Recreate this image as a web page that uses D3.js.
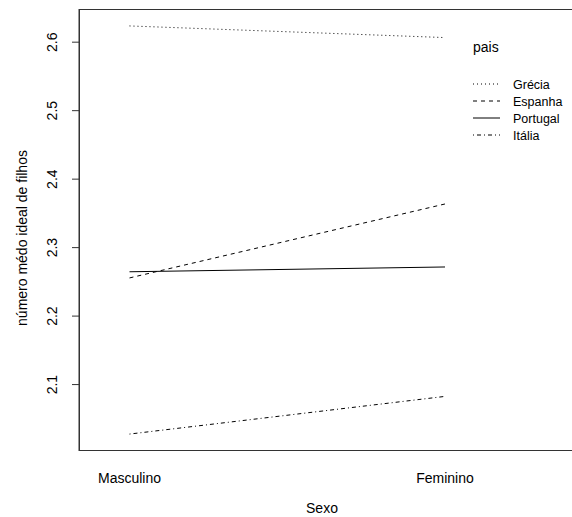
<!DOCTYPE html>
<html>
<head>
<meta charset="utf-8">
<script src="https://cdn.jsdelivr.net/npm/d3@7"></script>
<style>
body { margin: 0; background: #fff; }
text { font-family: "Liberation Sans", Arial, sans-serif; font-size: 14px; fill: #000; }
</style>
</head>
<body>
<svg id="chart" width="572" height="517"></svg>
<script>
const sexo = ['Masculino', 'Feminino']
const paises = ['Grécia', 'Espanha', 'Portugal', 'Itália']
const grecia = [2.623, 2.606]
const espanha = [2.255, 2.363]
const portugal = [2.264, 2.271]
const italia = [2.027, 2.082]
const yTicks = [2.1, 2.2, 2.3, 2.4, 2.5, 2.6]

const series = [grecia, espanha, portugal, italia]
const dashes = ['1,3', '4,4', null, '1,3,4,3']

const svg = d3.select('#chart')
const margin = {left: 79, top: 9.5, bottom: 450.5}

let x = d3.scalePoint()
.domain(sexo)
.range([129.5, 445])

let y = d3.scaleLinear()
.domain([2.003, 2.647])
.range([margin.bottom, margin.top])

// box (right side runs off the picture)
svg.append('rect')
.attr('x', margin.left)
.attr('y', margin.top)
.attr('width', 600)
.attr('height', margin.bottom - margin.top)
.attr('fill', 'none')
.attr('stroke', '#333')
.attr('stroke-width', 1)

// y axis
let yaxis = svg.append('g')
.attr('transform', `translate(${margin.left},0)`)
.call(d3.axisLeft(y).tickValues(yTicks).tickSize(7).tickSizeOuter(0).tickFormat(d3.format('.1f')))

yaxis.select('.domain').attr('stroke', '#333')
yaxis.selectAll('.tick line').attr('stroke', '#333')
yaxis.selectAll('text')
.attr('x', 0)
.attr('dy', 0)
.attr('text-anchor', 'middle')
.attr('transform', 'translate(-26,0) rotate(-90)')
.attr('dominant-baseline', 'middle')
.style('font-size', '14px')
.style('font-family', '"Liberation Sans", Arial, sans-serif')

// x labels
svg.append('g')
.selectAll('text')
.data(sexo)
.join('text')
.attr('x', d => x(d))
.attr('y', 483)
.attr('text-anchor', 'middle')
.text(d => d)

svg.append('text')
.attr('x', 322)
.attr('y', 513)
.attr('text-anchor', 'middle')
.text('Sexo')

svg.append('text')
.attr('transform', 'translate(27,238) rotate(-90)')
.attr('text-anchor', 'middle')
.text('número médo ideal de filhos')

// lines
const line = d3.line()
.x((d, i) => x(sexo[i]))
.y(d => y(d))

series.forEach((s, i) => {
	svg.append('path')
	.datum(s)
	.attr('d', line)
	.attr('fill', 'none')
	.attr('stroke', '#000')
	.attr('stroke-width', 1)
	.attr('stroke-dasharray', dashes[i])
})

// legend
let legend = svg.append('g')

legend.append('text')
.attr('x', 473)
.attr('y', 52)
.text('pais')

paises.forEach((p, i) => {
	let ly = 84 + i * 17
	legend.append('line')
	.attr('x1', 473).attr('x2', 500)
	.attr('y1', ly).attr('y2', ly)
	.attr('stroke', '#000')
	.attr('stroke-dasharray', dashes[i])
	legend.append('text')
	.attr('x', 513)
	.attr('y', ly + 4.5)
	.style('font-size', '12.5px')
	.text(p)
})
</script>
</body>
</html>
